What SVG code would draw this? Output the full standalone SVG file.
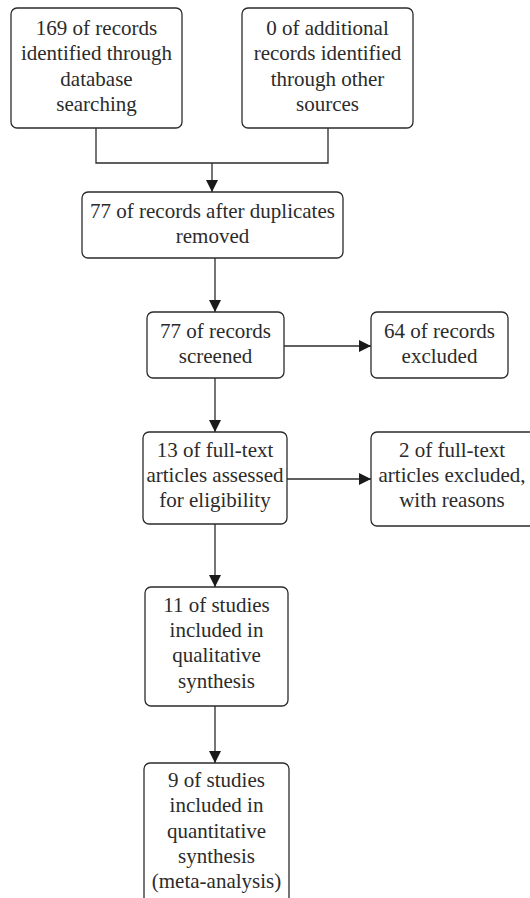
<svg xmlns="http://www.w3.org/2000/svg" width="530" height="898" viewBox="0 0 530 898">
<style>
.box{fill:#fff;stroke:#2b2b2b;stroke-width:1.3}
.t{font-size:21px;fill:#2b2b2b;text-anchor:middle}
.ln{fill:none;stroke:#2b2b2b;stroke-width:1.3}
</style>
<defs>
<marker id="ah" viewBox="0 0 12 12" refX="12" refY="6" markerWidth="12" markerHeight="12" markerUnits="userSpaceOnUse" orient="auto">
<path d="M0,0 L12,6 L0,12 Z" fill="#1a1a1a"/>
</marker>
</defs>
<rect width="530" height="898" fill="#fff"/>
<g id="connectors">
<path class="ln" d="M96,128 V163 H328 V128"/>
<path class="ln" d="M212,163 V192" marker-end="url(#ah)"/>
<path class="ln" d="M215,258 V312" marker-end="url(#ah)"/>
<path class="ln" d="M284,346 H371" marker-end="url(#ah)"/>
<path class="ln" d="M215,378 V432" marker-end="url(#ah)"/>
<path class="ln" d="M287,479 H371" marker-end="url(#ah)"/>
<path class="ln" d="M215,524 V587" marker-end="url(#ah)"/>
<path class="ln" d="M215,706 V763" marker-end="url(#ah)"/>
</g>
<g id="n1">
<rect class="box" x="11" y="8" width="171" height="120" rx="6"/>
<text class="t" font-family="Liberation Serif"><tspan x="96.5" y="35">169 of records</tspan><tspan x="96.5" y="60">identified through</tspan><tspan x="96.5" y="86">database</tspan><tspan x="96.5" y="111">searching</tspan></text>
</g>
<g id="n2">
<rect class="box" x="242" y="8" width="171" height="120" rx="6"/>
<text class="t" font-family="Liberation Serif"><tspan x="327.5" y="35">0 of additional</tspan><tspan x="327.5" y="60">records identified</tspan><tspan x="327.5" y="86">through other</tspan><tspan x="327.5" y="111">sources</tspan></text>
</g>
<g id="n3">
<rect class="box" x="82" y="192" width="261" height="66" rx="6"/>
<text class="t" font-family="Liberation Serif"><tspan x="212.5" y="218">77 of records after duplicates</tspan><tspan x="212.5" y="243">removed</tspan></text>
</g>
<g id="n4">
<rect class="box" x="147" y="312" width="137" height="66" rx="6"/>
<text class="t" font-family="Liberation Serif"><tspan x="215.5" y="338">77 of records</tspan><tspan x="215.5" y="363">screened</tspan></text>
</g>
<g id="n5">
<rect class="box" x="371" y="312" width="137" height="66" rx="6"/>
<text class="t" font-family="Liberation Serif"><tspan x="439.5" y="338">64 of records</tspan><tspan x="439.5" y="363">excluded</tspan></text>
</g>
<g id="n6">
<rect class="box" x="143" y="432" width="144" height="92" rx="6"/>
<text class="t" font-family="Liberation Serif"><tspan x="215" y="457">13 of full-text</tspan><tspan x="215" y="482">articles assessed</tspan><tspan x="215" y="507">for eligibility</tspan></text>
</g>
<g id="n7">
<rect class="box" x="371" y="432" width="165" height="94" rx="6"/>
<text class="t" font-family="Liberation Serif"><tspan x="452" y="457">2 of full-text</tspan><tspan x="452" y="482">articles excluded,</tspan><tspan x="452" y="507">with reasons</tspan></text>
</g>
<g id="n8">
<rect class="box" x="145" y="587" width="143" height="119" rx="6"/>
<text class="t" font-family="Liberation Serif"><tspan x="216.5" y="612">11 of studies</tspan><tspan x="216.5" y="637">included in</tspan><tspan x="216.5" y="662">qualitative</tspan><tspan x="216.5" y="688">synthesis</tspan></text>
</g>
<g id="n9">
<rect class="box" x="144" y="763" width="145" height="145" rx="6"/>
<text class="t" font-family="Liberation Serif"><tspan x="216.5" y="787">9 of studies</tspan><tspan x="216.5" y="812">included in</tspan><tspan x="216.5" y="838">quantitative</tspan><tspan x="216.5" y="863">synthesis</tspan><tspan x="216.5" y="888">(meta-analysis)</tspan></text>
</g>
</svg>
